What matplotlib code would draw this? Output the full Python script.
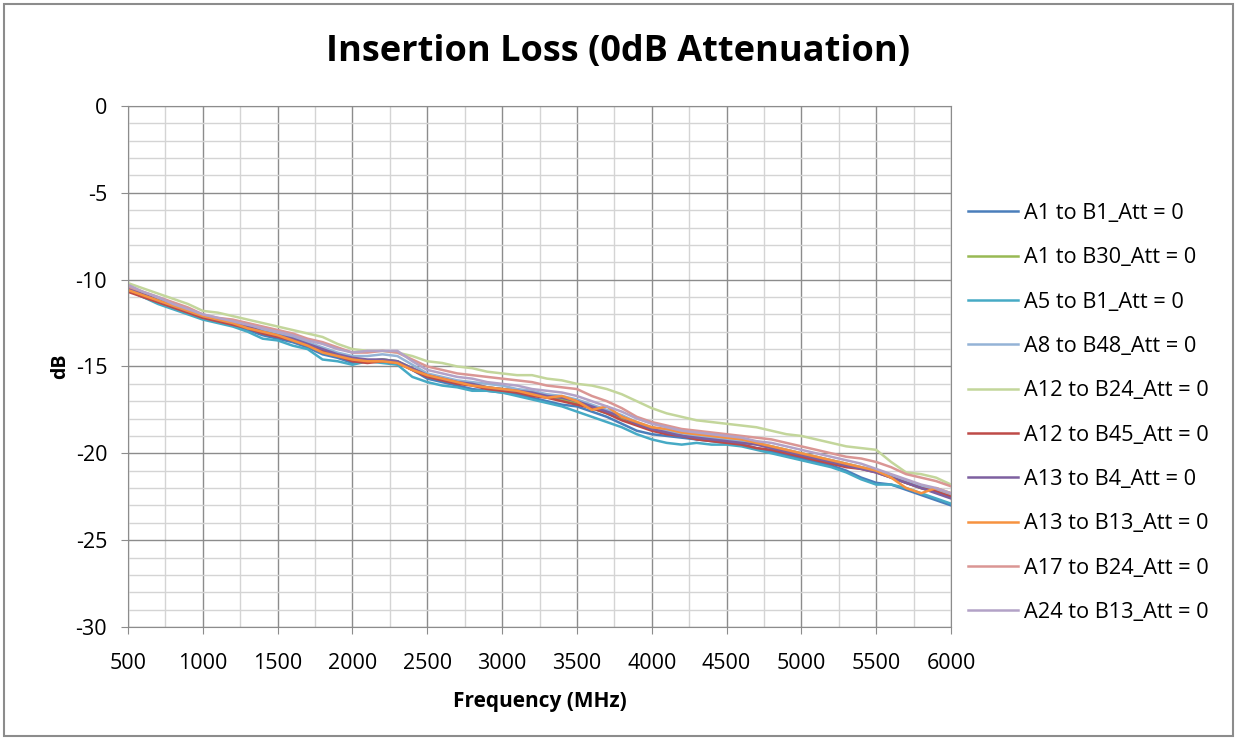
import matplotlib.pyplot as plt
import numpy as np
from matplotlib.patches import Rectangle

plt.switch_backend('Agg')
plt.rcParams['font.family'] = ['Open Sans', 'DejaVu Sans']
plt.rcParams['axes.unicode_minus'] = False

# Frequency points (MHz), one every 100 MHz
freq = list(range(500, 6001, 100))

# Insertion loss readings (dB)
a1_b1 = [-10.6, -11.0, -11.3, -11.6, -11.9, -12.2, -12.4, -12.6, -12.9, -13.2,
         -13.4, -13.6, -13.9, -14.3, -14.5, -14.8, -14.7, -14.6, -14.7, -15.2,
         -15.7, -15.9, -16.1, -16.3, -16.4, -16.5, -16.6, -16.8, -17.0, -17.2,
         -17.3, -17.6, -17.9, -18.3, -18.7, -18.9, -19.0, -19.1, -19.2, -19.3,
         -19.4, -19.5, -19.7, -19.9, -20.1, -20.3, -20.5, -20.7, -21.0, -21.4,
         -21.7, -21.8, -22.1, -22.4, -22.7, -23.0]
a1_b30 = [-10.5, -10.9, -11.2, -11.5, -11.8, -12.1, -12.3, -12.5, -12.8, -13.0,
          -13.2, -13.4, -13.7, -14.0, -14.3, -14.6, -14.7, -14.6, -14.7, -15.1,
          -15.5, -15.7, -15.9, -16.0, -16.2, -16.3, -16.4, -16.6, -16.7, -16.9,
          -17.1, -17.4, -17.7, -18.0, -18.3, -18.5, -18.7, -18.8, -18.9, -19.0,
          -19.1, -19.3, -19.4, -19.6, -19.8, -20.0, -20.2, -20.4, -20.6, -20.8,
          -21.0, -21.3, -21.7, -22.0, -22.2, -22.3]
a5_b1 = [-10.6, -11.0, -11.4, -11.7, -12.0, -12.3, -12.5, -12.7, -13.0, -13.4,
         -13.5, -13.8, -14.0, -14.6, -14.7, -14.9, -14.7, -14.8, -14.9, -15.6,
         -15.9, -16.1, -16.2, -16.4, -16.4, -16.5, -16.7, -16.9, -17.1, -17.3,
         -17.6, -17.9, -18.2, -18.5, -18.9, -19.2, -19.4, -19.5, -19.4, -19.5,
         -19.5, -19.6, -19.8, -20.0, -20.2, -20.4, -20.6, -20.8, -21.1, -21.5,
         -21.8, -21.8, -22.0, -22.3, -22.6, -22.9]
a8_b48 = [-10.5, -10.8, -11.1, -11.4, -11.8, -12.1, -12.3, -12.5, -12.7, -12.9,
          -13.1, -13.3, -13.6, -13.9, -14.2, -14.4, -14.4, -14.3, -14.4, -14.9,
          -15.4, -15.6, -15.8, -15.9, -16.0, -16.1, -16.3, -16.4, -16.6, -16.7,
          -16.9, -17.2, -17.5, -17.8, -18.2, -18.5, -18.7, -18.9, -19.0, -19.1,
          -19.2, -19.3, -19.4, -19.6, -19.8, -20.0, -20.2, -20.4, -20.6, -20.8,
          -21.0, -21.3, -21.6, -21.9, -22.1, -22.4]
a12_b24 = [-10.2, -10.5, -10.8, -11.1, -11.4, -11.8, -11.9, -12.1, -12.3, -12.5,
           -12.7, -12.9, -13.1, -13.3, -13.7, -14.0, -14.1, -14.1, -14.2, -14.4,
           -14.7, -14.8, -15.0, -15.1, -15.3, -15.4, -15.5, -15.5, -15.7, -15.8,
           -16.0, -16.1, -16.3, -16.6, -17.0, -17.4, -17.7, -17.9, -18.1, -18.2,
           -18.3, -18.4, -18.5, -18.7, -18.9, -19.0, -19.2, -19.4, -19.6, -19.7,
           -19.8, -20.5, -21.1, -21.2, -21.4, -21.8]
a12_b45 = [-10.7, -11.0, -11.3, -11.6, -11.9, -12.2, -12.4, -12.6, -12.8, -13.1,
           -13.3, -13.5, -13.8, -14.1, -14.4, -14.7, -14.8, -14.7, -14.8, -15.2,
           -15.6, -15.8, -16.0, -16.1, -16.3, -16.4, -16.5, -16.7, -16.8, -17.0,
           -17.2, -17.4, -17.7, -18.1, -18.4, -18.7, -18.9, -19.0, -19.2, -19.3,
           -19.4, -19.5, -19.7, -19.8, -20.0, -20.2, -20.4, -20.6, -20.8, -20.9,
           -21.1, -21.4, -21.7, -22.0, -22.2, -22.5]
a13_b4 = [-10.5, -10.8, -11.2, -11.5, -11.8, -12.1, -12.3, -12.5, -12.7, -13.0,
          -13.2, -13.4, -13.7, -14.0, -14.3, -14.5, -14.6, -14.6, -14.7, -15.1,
          -15.5, -15.7, -15.9, -16.0, -16.2, -16.3, -16.4, -16.5, -16.7, -16.8,
          -17.0, -17.3, -17.6, -17.9, -18.3, -18.6, -18.8, -19.0, -19.1, -19.2,
          -19.3, -19.4, -19.5, -19.7, -19.9, -20.1, -20.3, -20.5, -20.7, -20.9,
          -21.1, -21.4, -21.7, -22.0, -22.3, -22.6]
a13_b13 = [-10.6, -10.9, -11.2, -11.5, -11.8, -12.1, -12.3, -12.5, -12.8, -13.0,
           -13.2, -13.5, -13.8, -14.2, -14.4, -14.6, -14.7, -14.7, -14.8, -15.2,
           -15.5, -15.7, -15.9, -16.1, -16.2, -16.3, -16.4, -16.6, -16.8, -16.7,
           -17.0, -17.5, -17.3, -17.9, -18.2, -18.5, -18.6, -18.8, -18.9, -19.0,
           -19.1, -19.2, -19.4, -19.6, -19.8, -20.0, -20.2, -20.4, -20.6, -20.8,
           -21.0, -21.4, -22.0, -22.3, -22.0, -22.3]
a17_b24 = [-10.4, -10.7, -11.0, -11.3, -11.6, -12.0, -12.2, -12.3, -12.5, -12.7,
           -12.9, -13.1, -13.4, -13.6, -13.9, -14.2, -14.2, -14.1, -14.2, -14.6,
           -15.0, -15.2, -15.4, -15.5, -15.6, -15.7, -15.8, -15.9, -16.1, -16.2,
           -16.3, -16.7, -17.0, -17.4, -17.9, -18.2, -18.4, -18.6, -18.7, -18.8,
           -18.9, -19.0, -19.1, -19.2, -19.4, -19.6, -19.8, -20.0, -20.2, -20.3,
           -20.5, -20.8, -21.2, -21.4, -21.6, -21.9]
a24_b13 = [-10.3, -10.7, -11.0, -11.4, -11.7, -12.0, -12.2, -12.4, -12.6, -12.8,
           -13.0, -13.2, -13.5, -13.7, -14.0, -14.2, -14.1, -14.1, -14.1, -14.7,
           -15.2, -15.4, -15.6, -15.7, -15.9, -16.0, -16.1, -16.3, -16.4, -16.5,
           -16.7, -17.0, -17.3, -17.6, -18.0, -18.3, -18.5, -18.7, -18.8, -18.9,
           -19.0, -19.1, -19.3, -19.4, -19.6, -19.8, -20.0, -20.2, -20.4, -20.6,
           -20.9, -21.2, -21.5, -21.8, -22.0, -22.3]

series = [a1_b1, a1_b30, a5_b1, a8_b48, a12_b24, a12_b45, a13_b4, a13_b13, a17_b24, a24_b13]
labels = ['A1 to B1_Att = 0', 'A1 to B30_Att = 0', 'A5 to B1_Att = 0', 'A8 to B48_Att = 0',
          'A12 to B24_Att = 0', 'A12 to B45_Att = 0', 'A13 to B4_Att = 0',
          'A13 to B13_Att = 0', 'A17 to B24_Att = 0', 'A24 to B13_Att = 0']
colors = ['#4A7EBB', '#98B954', '#46AAC5', '#94B3D6', '#C3D69B',
          '#BE4B48', '#7D60A0', '#F69240', '#DA9694', '#B3A2C7']

fig = plt.figure(figsize=(12.37, 7.39), dpi=100)
ax = fig.add_axes([0.1035, 0.1516, 0.6653, 0.705])

for vals, lab, col in zip(series, labels, colors):
    ax.plot(freq, vals, color=col, lw=1.8, label=lab)

ax.set_xlim(500, 6000)
ax.set_ylim(-30, 0)
ax.set_xticks(np.arange(500, 6001, 500))
ax.set_xticks(np.arange(500, 6001, 250), minor=True)
ax.set_yticks(np.arange(-30, 1, 5))
ax.set_yticks(np.arange(-30, 1, 1), minor=True)
ax.grid(which='major', color='#8C8C8C', lw=1.0)
ax.grid(which='minor', color='#D4D4D4', lw=1.0)
ax.set_axisbelow(True)
ax.tick_params(which='major', direction='out', length=5, color='#8C8C8C',
               labelsize=15.5)
ax.tick_params(axis='x', which='major', pad=14)
ax.tick_params(axis='y', which='major', pad=10)
ax.tick_params(which='minor', length=0)
for s in ax.spines.values():
    s.set_color('#8C8C8C')

ax.set_xlabel('Frequency (MHz)', fontsize=15, fontweight='bold', labelpad=12)
ax.set_ylabel('dB', fontsize=14, fontweight='bold', labelpad=4)
fig.text(0.5, 0.93, 'Insertion Loss (0dB Attenuation)', ha='center', va='center',
         fontsize=26, fontweight='bold')

fig.legend(loc='center left', bbox_to_anchor=(0.7825, 0.441), frameon=False,
           fontsize=15.7, handlelength=2.3, handletextpad=0.28, labelspacing=1.07,
           borderpad=0, borderaxespad=0)

fig.patches.append(Rectangle((0.003, 0.004), 0.994, 0.99, transform=fig.transFigure,
                             fill=False, edgecolor='#8C8C8C', lw=1.5))

fig.savefig('out.png', dpi=100)
